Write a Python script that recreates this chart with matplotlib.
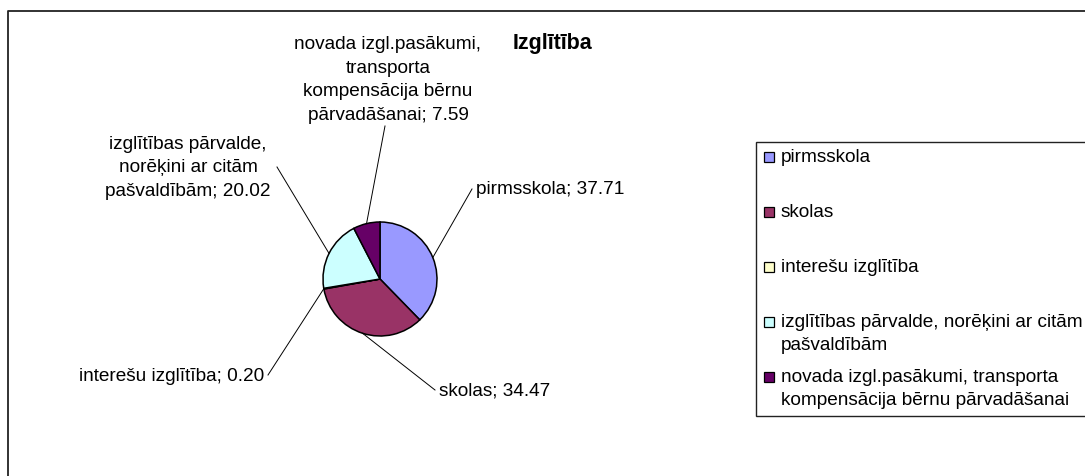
import numpy as np
import matplotlib.pyplot as plt
from matplotlib.patches import Rectangle
from matplotlib.lines import Line2D

plt.rcParams['font.family'] = ['Liberation Sans', 'DejaVu Sans']

# data
categories = ['pirmsskola', 'skolas', 'interešu izglītība',
              'izglītības pārvalde, norēķini ar citām pašvaldībām',
              'novada izgl.pasākumi, transporta kompensācija bērnu pārvadāšanai']
values = [37.71, 34.47, 0.20, 20.02, 7.59]
colors = ['#9999FF', '#993366', '#FFFFCC', '#CCFFFF', '#660066']
title = 'Izglītība'

# how the names wrap in the data labels and in the legend
label_names = ['pirmsskola', 'skolas', 'interešu izglītība',
               'izglītības pārvalde,\nnorēķini ar citām\npašvaldībām',
               'novada izgl.pasākumi,\ntransporta\nkompensācija bērnu\npārvadāšanai']
legend_names = ['pirmsskola', 'skolas', 'interešu izglītība',
                'izglītības pārvalde, norēķini ar citām\npašvaldībām',
                'novada izgl.pasākumi, transporta\nkompensācija bērnu pārvadāšanai']

W, H = 1085, 477
FS = 13.7
LS = 1.5


def py(y):
    # pixel row (from top) -> data y
    return H - y


fig = plt.figure(figsize=(W / 100, H / 100), dpi=100)
ax = fig.add_axes([0, 0, 1, 1])

cx, cy, r = 380, 280, 57
wedges, _ = ax.pie(values, colors=colors, startangle=90, counterclock=False,
                   center=(cx, py(cy)), radius=r,
                   wedgeprops=dict(edgecolor='black', linewidth=1.1))

ax.set_xlim(0, W)
ax.set_ylim(0, H)
ax.set_aspect('equal')
ax.axis('off')

# label placement: leader end point, text point, alignment
label_pos = [
    ((472, 190), (476, 190), 'left'),
    ((435, 391), (439, 391), 'left'),
    ((268, 376), (264, 377), 'right'),
    ((277, 168), (188, 168), 'center'),
    ((385, 127), (388, 80), 'center'),
]

for w, name, val, (end, tpos, ha) in zip(wedges, label_names, values, label_pos):
    ang = np.deg2rad((w.theta1 + w.theta2) / 2)
    x0 = cx + r * np.cos(ang)
    y0 = py(cy) + r * np.sin(ang)
    ax.plot([x0, end[0]], [y0, py(end[1])], color='black', lw=0.7)
    ax.text(tpos[0], py(tpos[1]), f'{name}; {val:.2f}', ha=ha, va='center',
            multialignment='center', fontsize=FS, linespacing=LS)

ax.text(553, py(44), title, ha='center', va='center', fontsize=15.5,
        fontweight='bold')

# outer chart frame (runs off the right and bottom edge)
ax.add_line(Line2D([8, 8, W + 5], [py(H + 5), py(12), py(12)],
                   color='#222222', lw=1.3))

# legend box
ax.add_patch(Rectangle((756, py(417)), W + 10 - 756, 417 - 143,
                       facecolor='white', edgecolor='#222222', lw=1.0))
for i, (w, name) in enumerate(zip(wedges, legend_names)):
    yy = 158 + i * 55
    ax.add_patch(Rectangle((764, py(yy) - 5), 10, 10,
                           facecolor=w.get_facecolor(), edgecolor='black', lw=0.9))
    ax.text(781, py(yy - 9), name, ha='left', va='top', fontsize=FS,
            linespacing=LS)

fig.savefig('out.png', dpi=100)
